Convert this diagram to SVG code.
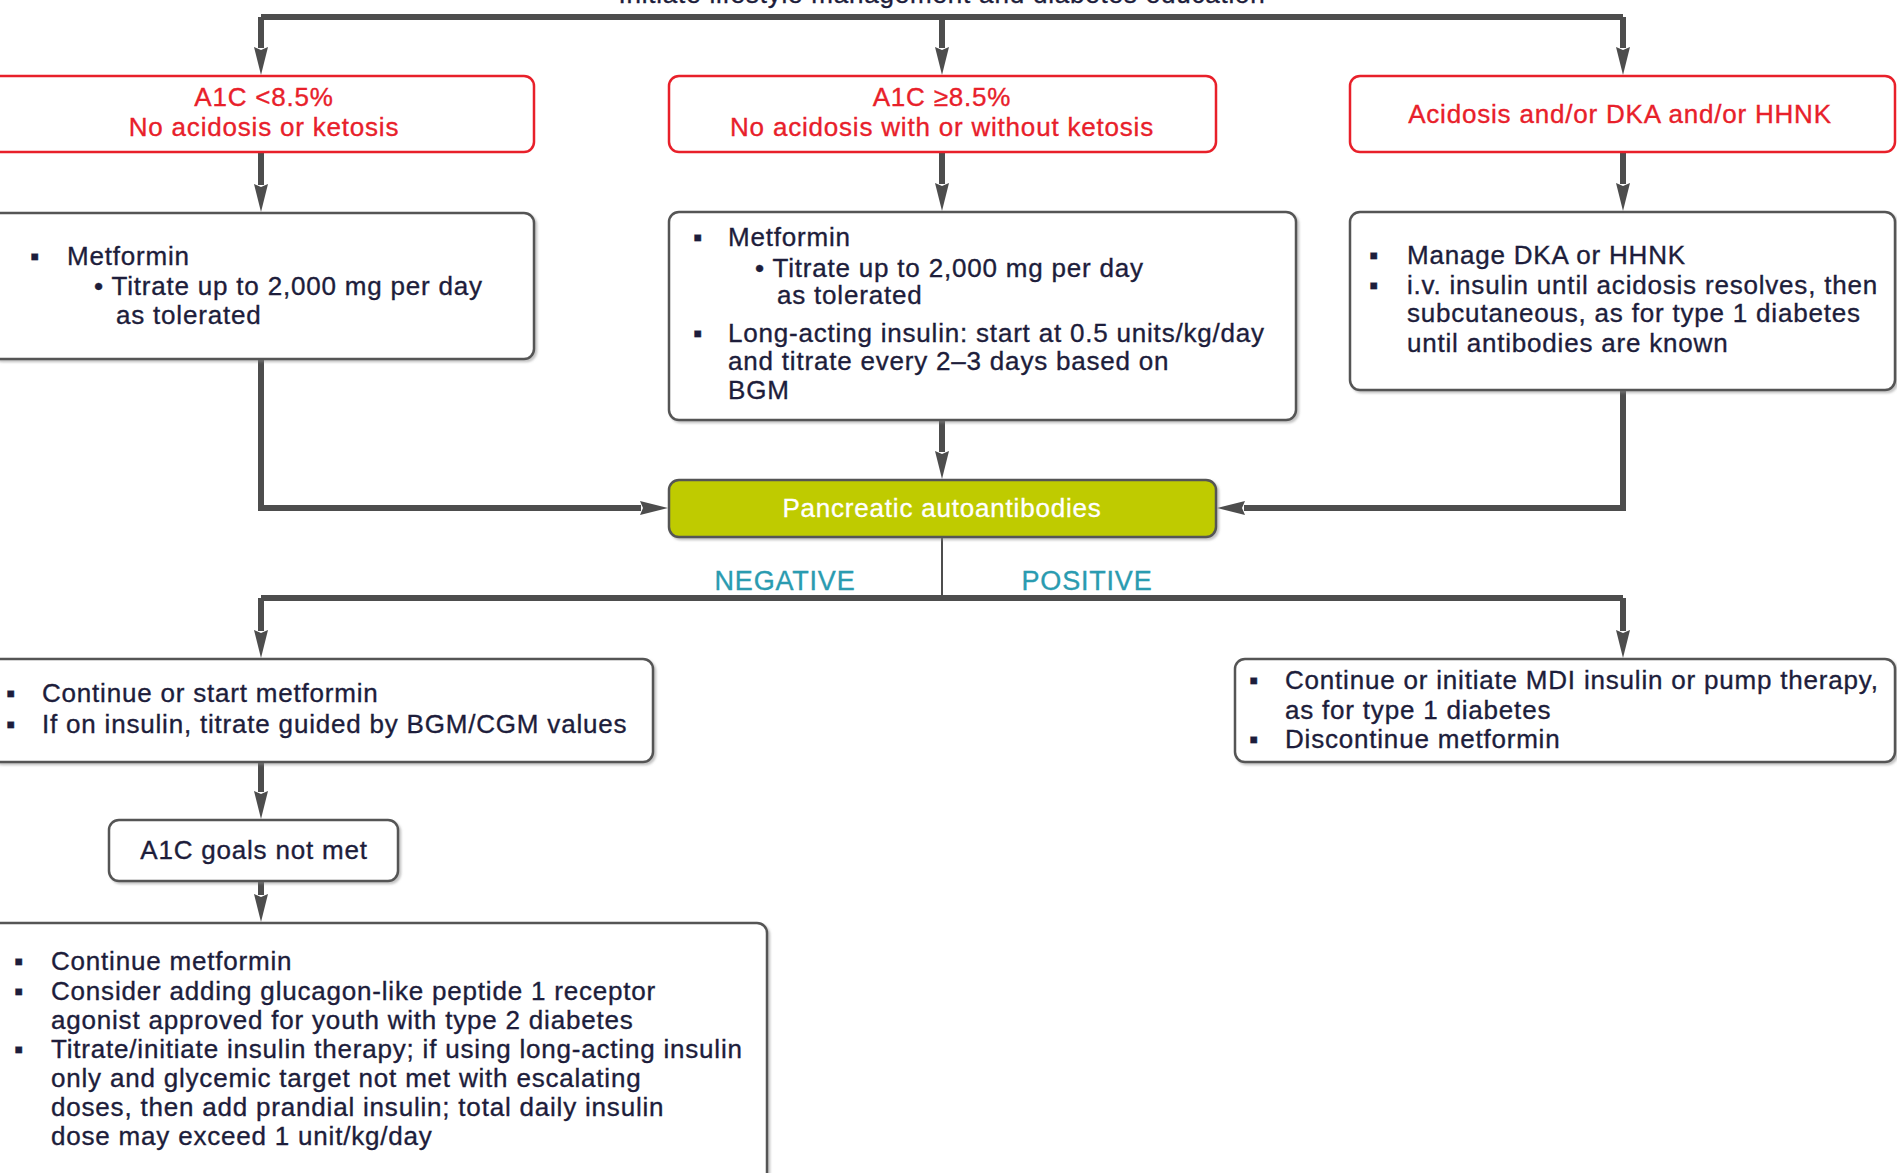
<svg xmlns="http://www.w3.org/2000/svg" width="1897" height="1173" viewBox="0 0 1897 1173">
<style>
text{font-family:"Liberation Sans",Arial,sans-serif;font-size:26px;letter-spacing:0.8px;fill:#1d1d3b;stroke:#1d1d3b;stroke-width:0.35px}
.red{fill:#e8202a;stroke:#e8202a}
.c{text-anchor:middle}
.lbl{fill:#2a9bb0;stroke:#2a9bb0;font-size:27px}
.wh{fill:#ffffff;stroke:#ffffff}
.box{fill:#fff;stroke:#555;stroke-width:2.5;filter:url(#sh)}
.rbox{fill:#fff;stroke:#e8202a;stroke-width:2.5}
.gbox{fill:#bfcb00;stroke:#555;stroke-width:2.5;filter:url(#sh)}
.ln{fill:none;stroke:#4d4d4d;stroke-width:6}
.thin{fill:none;stroke:#4d4d4d;stroke-width:2}
</style>
<defs>
<filter id="sh" x="-5%" y="-5%" width="110%" height="115%">
<feDropShadow dx="2" dy="2" stdDeviation="1.2" flood-color="#888" flood-opacity="0.5"/>
</filter>
<marker id="ahv" viewBox="0 0 28 14" refX="1" refY="7" markerWidth="28" markerHeight="14" markerUnits="userSpaceOnUse" orient="auto">
<path d="M0,0 L28,7 L0,14 L3,7 Z" fill="#4d4d4d"/>
</marker>
</defs>
<rect width="1897" height="1173" fill="#fff"/>
<text id="top" class="c" x="942" y="3">Initiate lifestyle management and diabetes education</text>
<g id="connectors">
<path class="ln" d="M261,17 H1623"/>
<path class="ln" d="M261,17 V48" marker-end="url(#ahv)"/>
<path class="ln" d="M942,17 V48" marker-end="url(#ahv)"/>
<path class="ln" d="M1623,17 V48" marker-end="url(#ahv)"/>
<path class="ln" d="M261,152 V185" marker-end="url(#ahv)"/>
<path class="ln" d="M942,152 V184" marker-end="url(#ahv)"/>
<path class="ln" d="M1623,152 V184" marker-end="url(#ahv)"/>
<path class="ln" d="M942,420 V452" marker-end="url(#ahv)"/>
<path class="ln" d="M261,359 V508 H641" marker-end="url(#ahv)"/>
<path class="ln" d="M1623,390 V508 H1244" marker-end="url(#ahv)"/>
<path class="thin" d="M942,537 V598"/>
<path class="ln" d="M261,598 H1623"/>
<path class="ln" d="M261,598 V631" marker-end="url(#ahv)"/>
<path class="ln" d="M1623,598 V631" marker-end="url(#ahv)"/>
<path class="ln" d="M261,762 V792" marker-end="url(#ahv)"/>
<path class="ln" d="M261,881 V895" marker-end="url(#ahv)"/>
</g>
<g id="n1">
<rect class="rbox" x="-10" y="76" width="544" height="76" rx="10"/>
<text class="red c" x="264" y="106">A1C &lt;8.5%</text>
<text class="red c" x="264" y="136">No acidosis or ketosis</text>
</g>
<g id="n2">
<rect class="rbox" x="669" y="76" width="547" height="76" rx="10"/>
<text class="red c" x="942" y="106">A1C ≥8.5%</text>
<text class="red c" x="942" y="136">No acidosis with or without ketosis</text>
</g>
<g id="n3">
<rect class="rbox" x="1350" y="76" width="545" height="76" rx="10"/>
<text class="red c" x="1620" y="123">Acidosis and/or DKA and/or HHNK</text>
</g>
<g id="n4">
<rect class="box" x="-10" y="213" width="544" height="146" rx="10"/>
<text x="30" y="265">▪</text>
<text x="67" y="265">Metformin</text>
<text x="94" y="295">• Titrate up to 2,000 mg per day</text>
<text x="116" y="324">as tolerated</text>
</g>
<g id="n5">
<rect class="box" x="669" y="212" width="627" height="208" rx="10"/>
<text x="693" y="246">▪</text>
<text x="728" y="246">Metformin</text>
<text x="755" y="277">• Titrate up to 2,000 mg per day</text>
<text x="777" y="304">as tolerated</text>
<text x="693" y="342">▪</text>
<text x="728" y="342">Long-acting insulin: start at 0.5 units/kg/day</text>
<text x="728" y="370">and titrate every 2–3 days based on</text>
<text x="728" y="399">BGM</text>
</g>
<g id="n6">
<rect class="box" x="1350" y="212" width="545" height="178" rx="10"/>
<text x="1369" y="264">▪</text>
<text x="1407" y="264">Manage DKA or HHNK</text>
<text x="1369" y="294">▪</text>
<text x="1407" y="294">i.v. insulin until acidosis resolves, then</text>
<text x="1407" y="322">subcutaneous, as for type 1 diabetes</text>
<text x="1407" y="352">until antibodies are known</text>
</g>
<g id="n7">
<rect class="gbox" x="669" y="480" width="547" height="57" rx="10"/>
<text class="wh c" x="942" y="517">Pancreatic autoantibodies</text>
</g>
<text id="neg" class="lbl c" x="785" y="590">NEGATIVE</text>
<text id="pos" class="lbl c" x="1087" y="590">POSITIVE</text>
<g id="n8">
<rect class="box" x="-10" y="659" width="663" height="103" rx="10"/>
<text x="6" y="702">▪</text>
<text x="42" y="702">Continue or start metformin</text>
<text x="6" y="733">▪</text>
<text x="42" y="733">If on insulin, titrate guided by BGM/CGM values</text>
</g>
<g id="n9">
<rect class="box" x="1235" y="659" width="660" height="103" rx="10"/>
<text x="1249" y="689">▪</text>
<text x="1285" y="689">Continue or initiate MDI insulin or pump therapy,</text>
<text x="1285" y="719">as for type 1 diabetes</text>
<text x="1249" y="748">▪</text>
<text x="1285" y="748">Discontinue metformin</text>
</g>
<g id="n10">
<rect class="box" x="109" y="820" width="289" height="61" rx="10"/>
<text class="c" x="254" y="859">A1C goals not met</text>
</g>
<g id="n11">
<rect class="box" x="-10" y="923" width="777" height="270" rx="10"/>
<text x="14" y="970">▪</text>
<text x="51" y="970">Continue metformin</text>
<text x="14" y="1000">▪</text>
<text x="51" y="1000">Consider adding glucagon-like peptide 1 receptor</text>
<text x="51" y="1029">agonist approved for youth with type 2 diabetes</text>
<text x="14" y="1058">▪</text>
<text x="51" y="1058">Titrate/initiate insulin therapy; if using long-acting insulin</text>
<text x="51" y="1087">only and glycemic target not met with escalating</text>
<text x="51" y="1116">doses, then add prandial insulin; total daily insulin</text>
<text x="51" y="1145">dose may exceed 1 unit/kg/day</text>
</g>
</svg>
